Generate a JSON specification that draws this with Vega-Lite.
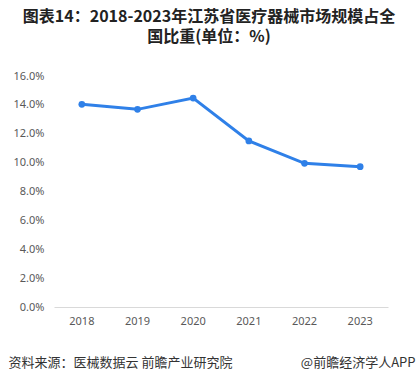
{
  "$schema": "https://vega.github.io/schema/vega-lite/v6.json",
  "autosize": {"type": "none"},
  "width": 334,
  "height": 231,
  "padding": {"left": 54, "top": 76, "right": 31, "bottom": 75},
  "background": "white",
  "config": {"view": {"stroke": null}, "font": "Noto Sans CJK SC", "axis": {"labelOverlap": false}},
  "title": {
    "text": ["图表14：2018-2023年江苏省医疗器械市场规模占全", "国比重(单位：%)"],
    "font": "Noto Sans CJK SC",
    "fontSize": 16,
    "fontWeight": "bold",
    "color": "#222222",
    "anchor": "middle",
    "dx": -12,
    "offset": 25,
    "lineHeight": 20
  },
  "data": {
    "values": [
      {"year": "2018", "share": 14.04},
      {"year": "2019", "share": 13.69},
      {"year": "2020", "share": 14.47},
      {"year": "2021", "share": 11.5},
      {"year": "2022", "share": 9.95},
      {"year": "2023", "share": 9.72}
    ]
  },
  "encoding": {
    "x": {
      "field": "year",
      "type": "ordinal",
      "scale": {"type": "band", "paddingInner": 0, "paddingOuter": 0},
      "axis": {
        "title": "资料来源：医械数据云 前瞻产业研究院",
        "titleFont": "Noto Sans CJK SC",
        "titleFontSize": 13,
        "titleFontWeight": "normal",
        "titleColor": "#333333",
        "titleAnchor": "start",
        "titleAlign": "left",
        "titleBaseline": "middle",
        "titleX": -46,
        "titleY": 55,
        "labelAngle": 0,
        "labelFontSize": 11,
        "labelColor": "#595959",
        "labelFont": "Noto Sans",
        "labelPadding": 8,
        "ticks": false,
        "domainColor": "#d9d9d9",
        "grid": false
      }
    },
    "y": {
      "field": "share",
      "type": "quantitative",
      "scale": {"domain": [0, 16]},
      "axis": {
        "title": "@前瞻经济学人APP",
        "titleFont": "Noto Sans CJK SC",
        "titleFontSize": 13,
        "titleFontWeight": "normal",
        "titleColor": "#333333",
        "titleAngle": 0,
        "titleAlign": "right",
        "titleBaseline": "middle",
        "titleX": 361,
        "titleY": 286,
        "values": [0, 2, 4, 6, 8, 10, 12, 14, 16],
        "labelExpr": "format(datum.value, '.1f') + '%'",
        "labelOverlap": false,
        "labelFlush": false,
        "labelBaseline": "middle",
        "labelFontSize": 11,
        "labelColor": "#595959",
        "labelFont": "Noto Sans",
        "labelPadding": 10,
        "ticks": false,
        "domain": false,
        "grid": false
      }
    }
  },
  "layer": [
    {
      "mark": {"type": "line", "color": "#2f80e8", "strokeWidth": 3}
    },
    {
      "mark": {"type": "point", "filled": true, "color": "#2f80e8", "size": 45, "opacity": 1}
    }
  ]
}
